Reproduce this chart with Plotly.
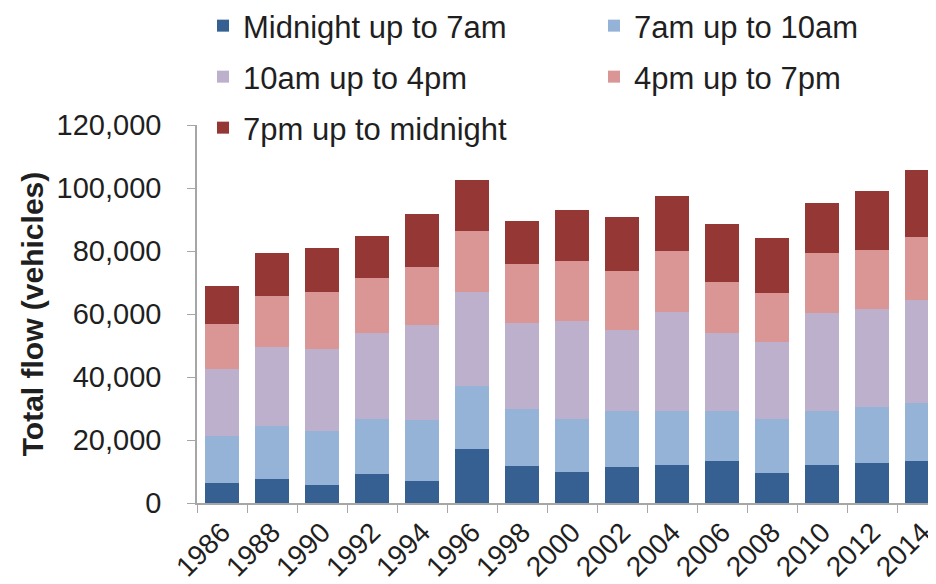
import plotly.graph_objects as go

years = ["1986", "1988", "1990", "1992", "1994", "1996", "1998", "2000",
         "2002", "2004", "2006", "2008", "2010", "2012", "2014"]
midnight_7am = [6500, 7700, 5800, 9300, 7000, 17100, 11800, 10000,
                11300, 12200, 13400, 9400, 12150, 12850, 13400]
am7_10am = [14800, 16900, 17200, 17400, 19500, 20050, 18100, 16700,
            17750, 17100, 15650, 17250, 16900, 17550, 18500]
am10_4pm = [21100, 24850, 25900, 27150, 30000, 29900, 27150, 31050,
            25900, 31400, 24850, 24400, 31400, 31150, 32550]
pm4_7pm = [14300, 16350, 18150, 17600, 18300, 19250, 18800, 19000,
           18700, 19450, 16350, 15700, 18800, 18900, 19850]
pm7_midnight = [12100, 13450, 13750, 13300, 17100, 16150, 13700, 16200,
                17200, 17300, 18200, 17250, 15850, 18600, 21350]

series_names = ["Midnight up to 7am", "7am up to 10am", "10am up to 4pm",
                "4pm up to 7pm", "7pm up to midnight"]
series_values = [midnight_7am, am7_10am, am10_4pm, pm4_7pm, pm7_midnight]
colors = ["#376092", "#95B3D7", "#BCB0CD", "#D99694", "#953735"]

# legend placement (container px): left x, centre y
legend_pos = [(195, 18), (586, 18), (195, 69), (586, 69), (195, 120)]
legend_keys = ["legend", "legend2", "legend3", "legend4", "legend5"]

W, H = 936, 584
FONT = "Liberation Sans, Arial, sans-serif"
TXT = "#1f1f1f"

fig = go.Figure()
for name, vals, col, lk in zip(series_names, series_values, colors, legend_keys):
    fig.add_trace(go.Bar(x=years, y=vals, name=name, marker_color=col,
                         marker_line_width=0, legend=lk, showlegend=True))

layout_legends = {}
for lk, (lx, ly) in zip(legend_keys, legend_pos):
    layout_legends[lk] = dict(
        xref="container", yref="container",
        x=lx / W, y=1 - ly / H, xanchor="left", yanchor="middle",
        orientation="h", bgcolor="rgba(0,0,0,0)",
        font=dict(family=FONT, size=31, color=TXT),
        itemclick=False, itemdoubleclick=False,
    )

fig.update_layout(
    width=W, height=H, autosize=False,
    margin=dict(l=189, r=8, t=117, b=89, pad=0, autoexpand=False),
    paper_bgcolor="white", plot_bgcolor="white",
    barmode="stack", bargap=0.32, showlegend=True,
    font=dict(family=FONT, color=TXT),
    **layout_legends,
)

fig.update_xaxes(
    type="category", range=[-0.5, 14.28], automargin=False,
    showline=True, linecolor="#A6A6A6", linewidth=1.5,
    ticks="outside", tickson="boundaries", ticklen=8, tickcolor="#A6A6A6",
    tickangle=-45, tickfont=dict(family=FONT, size=28, color=TXT),
    showgrid=False, zeroline=False,
)
fig.update_yaxes(
    range=[0, 120000], dtick=20000, tickformat=",", automargin=False,
    showline=True, linecolor="#A6A6A6", linewidth=1.5,
    ticks="outside", ticklen=8, tickcolor="#A6A6A6",
    ticklabelstandoff=20,
    tickfont=dict(family=FONT, size=29, color=TXT),
    showgrid=False, zeroline=False,
    title=dict(text="<b>Total flow (vehicles)</b>",
               font=dict(family=FONT, size=30, color=TXT), standoff=4),
)

fig.write_html("out.html")
